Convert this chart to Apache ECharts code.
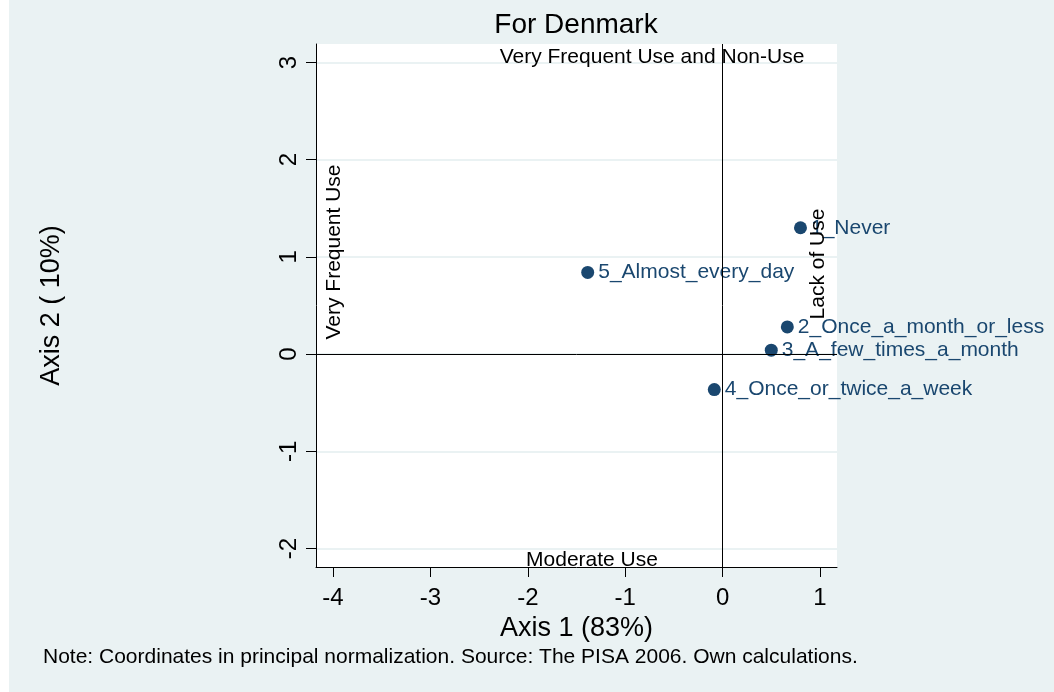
<!DOCTYPE html>
<html>
<head>
<meta charset="utf-8">
<script src="https://cdn.jsdelivr.net/npm/echarts@6/dist/echarts.min.js"></script>
<style>
  html, body { margin: 0; padding: 0; background: #fff; }
  #chart { width: 1054px; height: 692px; }
</style>
</head>
<body>
<div id="chart"></div>
<script>
// categories of use and their coordinates (principal normalization)
const categories = [
  '1_Never',
  '2_Once_a_month_or_less',
  '3_A_few_times_a_month',
  '4_Once_or_twice_a_week',
  '5_Almost_every_day'
]
const axis1Values = [0.80, 0.665, 0.50, -0.085, -1.385]
const axis2Values = [1.30, 0.28, 0.04, -0.365, 0.84]

const xTicks = [-4, -3, -2, -1, 0, 1]
const yTicks = [-2, -1, 0, 1, 2, 3]

const colors = {
  bg: '#eaf2f3',
  marker: '#1a476f',
  text: '#000000',
  grid: '#eaf2f3'
}
const font = "'Liberation Sans', Arial, sans-serif"

const chart = echarts.init(document.getElementById('chart'))

const points = categories.map((name, i) => ({ name, value: [axis1Values[i], axis2Values[i]] }))

const option = {
  backgroundColor: colors.bg,
  animation: false,
  textStyle: { fontFamily: font, color: colors.text },
  grid: {
    left: 316,
    top: 44,
    width: 521,
    height: 523,
    show: true,
    backgroundColor: '#ffffff',
    borderWidth: 0
  },
  xAxis: {
    type: 'value',
    min: -4.175,
    max: 1.175,
    name: 'Axis 1 (83%)',
    nameLocation: 'middle',
    nameGap: 42,
    nameTextStyle: { fontSize: 27, color: colors.text, fontFamily: font },
    axisLine: { show: true, onZero: false, lineStyle: { color: '#000', width: 1 } },
    axisTick: { show: true, length: 10, customValues: xTicks, lineStyle: { color: '#000' } },
    axisLabel: { customValues: xTicks, fontSize: 24, margin: 19, color: colors.text, fontFamily: font },
    splitLine: { show: false }
  },
  yAxis: {
    type: 'value',
    min: -2.19,
    max: 3.19,
    name: 'Axis 2 ( 10%)',
    nameLocation: 'middle',
    nameGap: 251,
    nameTextStyle: { fontSize: 27, color: colors.text, fontFamily: font },
    axisLine: { show: true, onZero: false, lineStyle: { color: '#000', width: 1 } },
    axisTick: { show: true, length: 10, customValues: yTicks, lineStyle: { color: '#000' } },
    axisLabel: { customValues: yTicks, fontSize: 24, margin: 15, rotate: 90, color: colors.text, fontFamily: font },
    splitLine: { show: true, lineStyle: { color: colors.grid, width: 2 } }
  },
  series: [
    {
      type: 'scatter',
      data: points,
      symbol: 'circle',
      symbolSize: 13,
      itemStyle: { color: colors.marker, opacity: 1 },
      label: {
        show: true,
        position: 'right',
        distance: 4,
        formatter: '{b}',
        fontSize: 21,
        color: colors.marker,
        opacity: 1,
        fontFamily: font
      },
      markLine: {
        silent: true,
        symbol: 'none',
        label: { show: false },
        lineStyle: { color: '#000', width: 1, type: 'solid', opacity: 1 },
        data: [{ xAxis: 0 }, { yAxis: 0 }]
      },
      z: 3
    }
  ],
  graphic: [
    { type: 'rect', left: 0, top: 0, shape: { width: 9, height: 692 }, style: { fill: '#fff' }, silent: true },
    {
      type: 'text', x: 576, y: 25,
      style: { text: 'For Denmark', font: '28px ' + font, fill: '#000', textAlign: 'center', textVerticalAlign: 'middle' }
    },
    {
      type: 'text', x: 652, y: 57, z: 10,
      style: { text: 'Very Frequent Use and Non-Use', font: '21px ' + font, fill: '#000', textAlign: 'center', textVerticalAlign: 'middle' }
    },
    {
      type: 'text', x: 592, y: 560, z: 10,
      style: { text: 'Moderate Use', font: '21px ' + font, fill: '#000', textAlign: 'center', textVerticalAlign: 'middle' }
    },
    {
      type: 'text', x: 334.5, y: 252, rotation: Math.PI / 2, z: 10,
      style: { text: 'Very Frequent Use', font: '21px ' + font, fill: '#000', textAlign: 'center', textVerticalAlign: 'middle' }
    },
    {
      type: 'text', x: 818, y: 264, rotation: Math.PI / 2, z: 10,
      style: { text: 'Lack of Use', font: '21px ' + font, fill: '#000', textAlign: 'center', textVerticalAlign: 'middle' }
    },
    {
      type: 'text', x: 43, y: 657.5,
      style: { text: 'Note: Coordinates in principal normalization. Source: The PISA 2006. Own calculations.', font: '21px ' + font, fill: '#000', textAlign: 'left', textVerticalAlign: 'middle' }
    }
  ]
}

chart.setOption(option)
</script>
</body>
</html>
